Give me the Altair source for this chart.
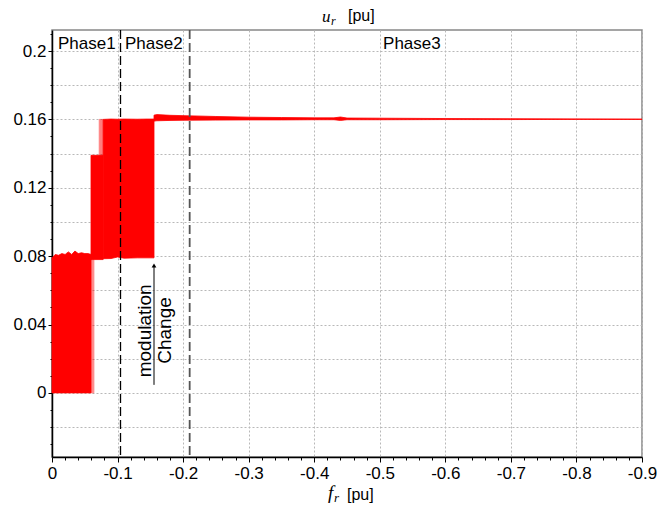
import altair as alt
import pandas as pd

RED = "#ff0000"
FONT = "Liberation Sans"

# ---- signal envelopes (f_r in pu, u_r in pu) ----
# Phase 1: band from 0 up to ~0.08
p1_f = [0, -0.005, -0.01, -0.015, -0.02, -0.025, -0.03, -0.035, -0.04, -0.045, -0.05, -0.055, -0.0595]
p1_hi = [0.079, 0.081, 0.0805, 0.0815, 0.081, 0.0825, 0.081, 0.083, 0.0815, 0.082, 0.0815, 0.0815, 0.081]
p1_lo = [0, 0, 0, 0, 0, 0, 0, 0, 0, 0, 0, 0, 0]
# thin fringe at the end of phase 1
p1b_f = [-0.0595, -0.064]
p1b_hi = [0.078, 0.078]
p1b_lo = [0, 0]
# Phase 2 first step
p2a_f = [-0.0595, -0.078]
p2a_hi = [0.139, 0.139]
p2a_lo = [0.078, 0.078]
# light transition part
p2b_f = [-0.072, -0.078]
p2b_hi = [0.16, 0.16]
p2b_lo = [0.139, 0.139]
# Phase 2 full band
p2c_f = [-0.078, -0.09, -0.1, -0.11, -0.13, -0.145, -0.1556]
p2c_hi = [0.160, 0.1602, 0.1601, 0.1602, 0.1601, 0.1602, 0.1602]
p2c_lo = [0.0785, 0.0786, 0.0795, 0.0788, 0.079, 0.079, 0.079]
# Phase 3 steady line
p3_f = [-0.1556, -0.16, -0.18, -0.2, -0.25, -0.3, -0.35, -0.4, -0.43, -0.44, -0.45, -0.5, -0.6, -0.7, -0.8, -0.9]
p3_hi = [0.1625, 0.1628, 0.1624, 0.1622, 0.1617, 0.1613, 0.1611, 0.1609, 0.1609, 0.1614, 0.1608, 0.1607, 0.1605, 0.1604, 0.1603, 0.1602]
p3_lo = [0.1590, 0.1592, 0.1594, 0.1595, 0.1596, 0.1597, 0.1597, 0.1598, 0.1598, 0.1594, 0.1598, 0.1598, 0.1599, 0.1599, 0.1600, 0.1600]

# ---- phase boundaries and annotations ----
phase_line_f = [-0.1045, -0.21]
phase_label = ["Phase1", "Phase2", "Phase3"]
phase_label_f = [-0.0092, -0.1113, -0.505]
phase_label_y = [0.2012, 0.2012, 0.2012]
note_text = ["modulation", "Change"]
note_f = [-0.1419, -0.1724]
note_y = [0.0363, 0.0365]
arrow_f = [-0.1556]
arrow_y0 = [0.0047]
arrow_y1 = [0.0745]

# ---- axes ----
x_ticks = [round(-0.02 * i, 2) for i in range(0, 46)]
y_ticks = [round(-0.03 + 0.01 * i, 2) for i in range(0, 25)]

xscale = alt.Scale(domain=[-0.9, 0], reverse=True, nice=False, zero=False)
yscale = alt.Scale(domain=[-0.0375, 0.2123], nice=False, zero=False)

X_MAJOR = "abs(datum.value*10 - round(datum.value*10)) < 0.000001"
Y_MAJOR = "abs(datum.value*25 - round(datum.value*25)) < 0.000001"
Y_GRID = "abs(datum.value*50 - round(datum.value*50)) < 0.000001"

xaxis = alt.Axis(
    values=x_ticks,
    tickCount=200,
    title=None,
    labelExpr=X_MAJOR + " ? replace(format(datum.value, '.1~f'), '\u2212', '-') : ''",
    labelFont=FONT, labelFontSize=17, labelColor="black", labelPadding=3,
    labelFlush=False, labelOverlap=False,
    domainColor="black", domainWidth=1.5,
    tickColor="black",
    tickSize={"condition": {"test": X_MAJOR, "value": 5}, "value": 3},
    grid=True, gridColor="#b8b8b8", gridDash=[2, 2], gridWidth=1,
    gridOpacity={"condition": {"test": X_MAJOR, "value": 1}, "value": 0},
)
yaxis = alt.Axis(
    values=y_ticks,
    tickCount=200,
    title=None,
    labelExpr=Y_MAJOR + " && datum.value > -0.001 ? format(datum.value, '.2~f') : ''",
    labelFont=FONT, labelFontSize=17, labelColor="black", labelPadding=2,
    labelFlush=False, labelOverlap=False,
    domainColor="black", domainWidth=1.5,
    tickColor="black",
    tickSize={"condition": {"test": Y_MAJOR, "value": 4}, "value": 2},
    grid=True, gridColor="#b8b8b8", gridDash=[2, 2], gridWidth=1,
    gridOpacity={"condition": {"test": Y_GRID, "value": 1}, "value": 0},
)

X = alt.X("f:Q", scale=xscale, axis=xaxis)
Y = alt.Y("hi:Q", scale=yscale, axis=yaxis)


def band(f, lo, hi, opacity=1.0):
    df = pd.DataFrame({"f": f, "lo": lo, "hi": hi})
    return alt.Chart(df).mark_area(
        color=RED, opacity=opacity, stroke=RED, strokeWidth=0.8, interpolate="linear"
    ).encode(x=X, y=Y, y2="lo:Q")


layers = [
    band(p1_f, p1_lo, p1_hi),
    band(p1b_f, p1b_lo, p1b_hi, 0.45),
    band(p2a_f, p2a_lo, p2a_hi),
    band(p2b_f, p2b_lo, p2b_hi, 0.5),
    band(p2c_f, p2c_lo, p2c_hi),
    band(p3_f, p3_lo, p3_hi),
]

line_df = pd.DataFrame({"f": phase_line_f, "c": ["#000000", "#555555"], "w": [1.3, 1.8]})
for i in range(2):
    d = line_df.iloc[[i]]
    layers.append(
        alt.Chart(d).mark_rule(color=d["c"].iloc[0], strokeWidth=float(d["w"].iloc[0]), strokeDash=[9, 4])
        .encode(x=alt.X("f:Q", scale=xscale))
    )

lab_df = pd.DataFrame({"t": phase_label, "f": phase_label_f, "y": phase_label_y})
layers.append(
    alt.Chart(lab_df).mark_text(align="left", baseline="alphabetic", font=FONT, fontSize=17, color="black")
    .encode(x=alt.X("f:Q", scale=xscale), y=alt.Y("y:Q", scale=yscale), text="t:N")
)

note_df = pd.DataFrame({"t": note_text, "f": note_f, "y": note_y})
layers.append(
    alt.Chart(note_df).mark_text(align="center", baseline="middle", angle=270, font=FONT, fontSize=19, color="black")
    .encode(x=alt.X("f:Q", scale=xscale), y=alt.Y("y:Q", scale=yscale), text="t:N")
)

arr_df = pd.DataFrame({"f": arrow_f, "y0": arrow_y0, "y1": arrow_y1})
layers.append(
    alt.Chart(arr_df).mark_rule(color="black", strokeWidth=1)
    .encode(x=alt.X("f:Q", scale=xscale), y=alt.Y("y0:Q", scale=yscale), y2="y1:Q")
)
layers.append(
    alt.Chart(arr_df).mark_point(shape="triangle-up", filled=True, color="black", size=22, opacity=1)
    .encode(x=alt.X("f:Q", scale=xscale), y=alt.Y("y1:Q", scale=yscale))
)

# axis titles (math-style italic symbol + unit)
def txt(s, x, y, size, font, style="normal", align="left"):
    return alt.Chart(pd.DataFrame({"t": [s]})).mark_text(
        align=align, baseline="alphabetic", font=font, fontSize=size, fontStyle=style, color="black"
    ).encode(x=alt.value(x), y=alt.value(y), text="t:N")

layers += [
    txt("u", 270, -8, 17, "Liberation Serif", "italic"),
    txt("r", 279, -5, 12, "Liberation Serif", "italic"),
    txt("[pu]", 296, -9, 16, FONT),
    txt("f", 276, 469, 19, "Liberation Serif", "italic"),
    txt("r", 282, 472, 13, "Liberation Serif", "italic"),
    txt("[pu]", 295, 470, 16, FONT),
]

chart = alt.layer(*layers).properties(
    width=590, height=427,
    autosize=alt.AutoSizeParams(type="none"),
    padding={"left": 44, "top": 22, "right": 15, "bottom": 48},
).configure_view(stroke="#888888", strokeWidth=1.5)

chart.save("out.html", embed_options={"renderer": "svg", "actions": False})
